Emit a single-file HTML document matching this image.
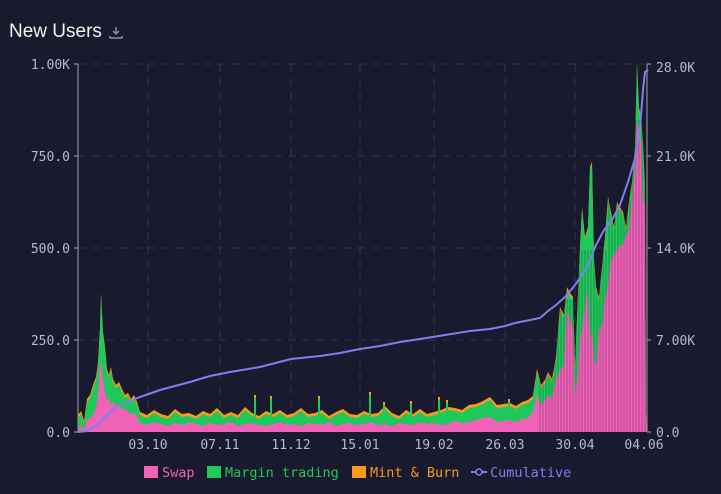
<!DOCTYPE html>
<html><head><meta charset="utf-8"><style>
html,body{margin:0;padding:0;background:#1a1a2e;}
body{width:721px;height:494px;overflow:hidden;}
svg{display:block}
</style></head><body>
<svg width="721" height="494" xmlns="http://www.w3.org/2000/svg">
<rect width="721" height="494" fill="#1a1a2e"/>
<text x="9" y="37" fill="#f2f2f2" font-family="Liberation Sans, sans-serif" font-size="19">New Users</text>
<g fill="none" stroke="#8a8aa0" stroke-width="1.5"><path d="M116 27v7M113 31l3 3 3-3M110 36v2h12v-2"/></g>
<g stroke="#34344a" stroke-dasharray="8,6" stroke-width="1">
<path d="M78 64H647M78 156H647M78 248H647M78 340H647M148 64V432M220 64V432M291 64V432M360 64V432M434 64V432M505 64V432M575 64V432"/>
</g>
<path fill="#f59a1a" d="M78,432 L78,415 81,411 84,421 87,399 90,395 93,385 96,377 98,362 100,327 101,293 103,332 105,347 107,369 109,375 111,367 113,379 116,385 119,382 122,389 125,395 128,393 131,399 134,395 137,402 140,412 147,415 154,410 161,414 168,416 175,409 182,414 189,413 196,416 203,411 210,414 217,408 224,415 231,412 238,415 245,407 252,413 259,416 266,411 273,414 280,410 287,415 294,413 301,408 308,414 315,413 322,410 329,416 336,412 343,409 350,414 357,415 364,411 371,414 378,413 385,406 392,413 399,416 406,410 413,414 420,409 427,414 434,412 441,410 448,407 455,408 462,410 469,405 476,404 483,401 490,397 497,405 504,404 510,403 516,406 522,402 528,400 533,396 537,369 541,385 545,380 548,372 552,379 556,357 560,307 564,315 567,287 570,293 573,297 575,367 577,317 580,247 582,207 585,237 588,227 590,167 592,162 594,257 596,287 599,297 602,267 605,237 608,197 611,212 614,227 617,202 620,207 623,212 626,227 629,202 632,182 635,147 637,64 639,107 641,117 643,142 645,187 646,412 647,432 Z"/>
<path fill="#1ec85a" d="M78,432 L78,418 81,414 84,424 87,402 90,398 93,388 96,380 98,365 100,330 101,296 103,335 105,350 107,372 109,378 111,370 113,382 116,388 119,385 122,392 125,398 128,396 131,402 134,398 137,405 140,415 147,418 154,413 161,417 168,419 175,412 182,417 189,416 196,419 203,414 210,417 217,411 224,418 231,415 238,418 245,410 252,416 259,419 266,414 273,417 280,413 287,418 294,416 301,411 308,417 315,416 322,413 329,419 336,415 343,412 350,417 357,418 364,414 371,417 378,416 385,409 392,416 399,419 406,413 413,417 420,412 427,417 434,415 441,413 448,410 455,411 462,413 469,408 476,407 483,404 490,400 497,408 504,407 510,406 516,409 522,405 528,403 533,399 537,372 541,388 545,383 548,375 552,382 556,360 560,310 564,318 567,290 570,296 573,300 575,370 577,320 580,250 582,210 585,240 588,230 590,170 592,165 594,260 596,290 599,300 602,270 605,240 608,200 611,215 614,230 617,205 620,210 623,215 626,230 629,205 632,185 635,150 637,64 639,110 641,120 643,145 645,190 646,415 647,432 Z"/>
<g fill="#1ec85a">
<rect x="254" y="398" width="2" height="20"/><rect x="270" y="399" width="2" height="20"/><rect x="318" y="399" width="2" height="20"/><rect x="369" y="395" width="2" height="22"/><rect x="383" y="405" width="2" height="12"/><rect x="410" y="404" width="2" height="14"/><rect x="438" y="400" width="2" height="16"/><rect x="446" y="403" width="2" height="12"/><rect x="508" y="402" width="2" height="14"/>
</g>
<g fill="#f59a1a">
<rect x="254" y="395" width="2" height="3"/><rect x="270" y="396" width="2" height="3"/><rect x="318" y="396" width="2" height="3"/><rect x="369" y="392" width="2" height="3"/><rect x="383" y="402" width="2" height="3"/><rect x="410" y="401" width="2" height="3"/><rect x="438" y="397" width="2" height="3"/><rect x="446" y="400" width="2" height="3"/><rect x="508" y="399" width="2" height="3"/>
</g>
<path fill="#f062b8" d="M78,432 L78,428 81,426 84,430 87,420 90,418 93,415 96,408 98,395 100,365 101,360 103,380 105,392 107,400 109,398 111,405 113,402 116,406 119,404 122,410 125,408 128,412 131,414 134,413 137,416 140,423 147,425 154,422 161,424 168,426 175,423 182,425 189,422 196,424 203,426 210,423 217,425 224,424 231,422 238,426 245,424 252,423 259,425 266,426 273,424 280,422 287,425 294,424 301,426 308,423 315,424 322,425 329,422 336,426 343,424 350,423 357,425 364,424 371,422 378,425 385,424 392,426 399,423 406,424 413,425 420,422 427,424 434,423 441,425 448,424 455,421 462,423 469,422 476,420 483,418 490,417 497,422 504,421 510,420 516,422 522,419 528,418 533,412 537,395 541,405 545,400 548,395 552,398 556,380 560,370 564,365 567,310 570,320 573,330 575,395 577,380 580,340 582,330 585,310 588,285 590,340 592,330 594,360 596,365 599,330 602,325 605,300 608,285 611,260 614,255 617,250 620,245 623,245 626,235 629,230 632,200 635,170 637,120 639,135 641,140 643,200 645,205 646,420 647,432 Z"/>
<g stroke="#1a1a2e" stroke-width="0.6" opacity="0.5">
<path d="M540 432V300M543 432V300M546 432V300M549 432V300M552 432V300M555 432V300M558 432V300M561 432V300M564 432V300M567 432V300M570 432V300M573 432V300M576 432V300M579 432V250M582 432V250M585 432V250M588 432V250M591 432V250M594 432V250M597 432V250M600 432V250M603 432V250M606 432V250M609 432V200M612 432V200M615 432V200M618 432V200M621 432V200M624 432V200M627 432V200M630 432V200M633 432V150M636 432V120M639 432V120M642 432V120M645 432V120"/>
</g>
<g stroke="#8a8a9a" stroke-width="1.2" fill="none">
<path d="M78 64V432M647 64V432"/>
<path d="M74 64h4M74 156h4M74 248h4M74 340h4M74 432h4M647 64h4M647 156h4M647 248h4M647 340h4M647 432h4"/>
</g>
<polyline fill="none" stroke="#7f7ff0" stroke-width="2" points="78,432 88,431 96,426 104,418 112,410 122,404 140,397 160,390 190,382 210,376 230,372 260,367 291,359 320,356 340,353 360,349 380,346 400,342 420,339 445,335 470,331 490,329 505,326 515,323 530,320 540,318 548,311 556,305 566,296 575,285 580,278 588,265 596,245 604,230 612,220 620,205 628,182 636,155 640,128 643,90 645,72 648,70"/>
<g font-family="DejaVu Sans Mono, Liberation Mono, monospace" font-size="13" fill="#b8b8c8">
<text x="70" y="69" text-anchor="end">1.00K</text>
<text x="70" y="161" text-anchor="end">750.0</text>
<text x="70" y="253" text-anchor="end">500.0</text>
<text x="70" y="345" text-anchor="end">250.0</text>
<text x="70" y="437" text-anchor="end">0.0</text>
<text x="656" y="72">28.0K</text>
<text x="656" y="161">21.0K</text>
<text x="656" y="253">14.0K</text>
<text x="656" y="345">7.00K</text>
<text x="656" y="437">0.0</text>
<text x="148" y="449" text-anchor="middle">03.10</text>
<text x="220" y="449" text-anchor="middle">07.11</text>
<text x="291" y="449" text-anchor="middle">11.12</text>
<text x="360" y="449" text-anchor="middle">15.01</text>
<text x="434" y="449" text-anchor="middle">19.02</text>
<text x="505" y="449" text-anchor="middle">26.03</text>
<text x="575" y="449" text-anchor="middle">30.04</text>
<text x="644" y="449" text-anchor="middle">04.06</text>
</g>
<g font-family="DejaVu Sans Mono, Liberation Mono, monospace" font-size="13.5">
<rect x="144" y="466" width="14" height="12" fill="#f062b8"/><text x="162" y="477" fill="#f062b8">Swap</text>
<rect x="207" y="466" width="14" height="12" fill="#1ec85a"/><text x="225" y="477" fill="#1ec85a">Margin trading</text>
<rect x="352" y="466" width="14" height="12" fill="#f59a1a"/><text x="370" y="477" fill="#f59a1a">Mint &amp; Burn</text>
<path d="M471 472h16" stroke="#7f7ff0" stroke-width="2"/><circle cx="479" cy="472" r="3" fill="#1a1a2e" stroke="#7f7ff0" stroke-width="1.5"/>
<text x="490" y="477" fill="#7f7ff0">Cumulative</text>
</g>
</svg>
</body></html>
